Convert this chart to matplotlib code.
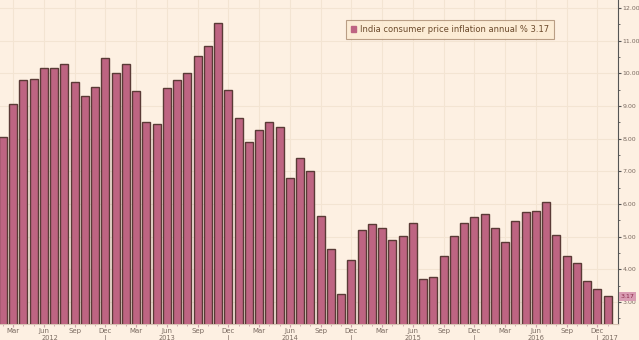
import matplotlib.pyplot as plt
import matplotlib.transforms as mtransforms
from matplotlib.patches import Patch

# monthly India CPI inflation, Feb 2012 .. Jan 2017 (annual %)
months = ['Feb', 'Mar', 'Apr', 'May', 'Jun', 'Jul', 'Aug', 'Sep', 'Oct', 'Nov', 'Dec', 'Jan'] * 5
cpi = [8.06, 9.06, 9.79, 9.83, 10.16, 10.15, 10.28, 9.73, 9.30, 9.57, 10.48, 10.01,
       10.28, 9.47, 8.50, 8.44, 9.54, 9.81, 10.00, 10.52, 10.84, 11.54, 9.49, 8.62,
       7.90, 8.27, 8.51, 8.36, 6.79, 7.41, 7.01, 5.64, 4.63, 3.25, 4.30, 5.19,
       5.39, 5.27, 4.89, 5.02, 5.42, 3.70, 3.76, 4.42, 5.01, 5.42, 5.61, 5.70,
       5.27, 4.85, 5.48, 5.77, 5.79, 6.07, 5.05, 4.40, 4.19, 3.64, 3.41, 3.17]
years = ['2012', '2013', '2014', '2015', '2016', '2017']
year_pos = [4.6, 16, 28, 40, 52, 59.2]
last_value = cpi[-1]

bg = '#FDF0E2'
bar_face = '#BE6482'
bar_edge = '#5A3A36'
text_col = '#7a6a60'

fig = plt.figure(figsize=(6.39, 3.40), dpi=100, facecolor=bg)
ax = fig.add_axes([0.0, 0.0485, 0.967, 0.9515], facecolor=bg)

x = list(range(len(cpi)))
ax.bar(x, cpi, width=0.78, color=bar_face, edgecolor=bar_edge, linewidth=1.0, zorder=3)

ax.set_xlim(-0.27, 60.0)
ax.set_ylim(2.343, 12.245)

# quarterly month labels
qpos = [i for i, m in enumerate(months) if m in ('Mar', 'Jun', 'Sep', 'Dec')]
ax.set_xticks(qpos)
ax.set_xticklabels([months[i] for i in qpos], fontsize=5, color=text_col)
ax.set_xticks(x, minor=True)
ax.tick_params(axis='x', which='major', length=2, pad=1.2, color='#c9a0a8')
ax.tick_params(axis='x', which='minor', length=1.5, color='#c9a0a8')

# years underneath, with separators under December
trans = mtransforms.blended_transform_factory(ax.transData, ax.transAxes)
for yr, p in zip(years, year_pos):
    ax.text(p, -0.034, yr, transform=trans, fontsize=4.8, color=text_col,
            ha='center', va='top')
for i, m in enumerate(months):
    if m == 'Dec':
        ax.plot([i, i], [-0.035, -0.08], transform=trans, color='#9a8a80',
                linewidth=0.6, clip_on=False)

# value axis on the right
ax.yaxis.tick_right()
ax.set_yticks(range(3, 13))
ax.set_yticklabels(['%.2f' % v for v in range(3, 13)], fontsize=4.5, color=text_col)
ax.set_yticks([v + 0.5 for v in range(2, 12)], minor=True)
ax.tick_params(axis='y', which='major', direction='out', length=2.2, pad=1.0, color='#555555')
ax.tick_params(axis='y', which='minor', direction='out', length=1.4, color='#555555')

for side in ('left', 'top'):
    ax.spines[side].set_visible(False)
ax.spines['right'].set_color('#555555')
ax.spines['right'].set_linewidth(0.8)
ax.spines['bottom'].set_color('#d8c4b4')

ax.grid(True, which='major', color='#F3E4D2', linewidth=0.8, zorder=0)

# last value tag on the axis
ax.text(1.004, last_value, '%.2f' % last_value,
        transform=mtransforms.blended_transform_factory(ax.transAxes, ax.transData),
        fontsize=4.5, color='#8a2848', ha='left', va='center',
        bbox=dict(boxstyle='square,pad=0.3', facecolor='#D99DB3', edgecolor='none'),
        clip_on=False, zorder=5)

handle = Patch(facecolor=bar_face, edgecolor=bar_face)
leg = ax.legend([handle], ['India consumer price inflation annual %% %.2f' % last_value],
                loc='upper right', bbox_to_anchor=(0.903, 0.952), fontsize=6,
                frameon=True, fancybox=False, handlelength=0.7, handleheight=0.7,
                handletextpad=0.4, borderpad=0.6, labelcolor='#6b4a2c')
leg.get_frame().set_facecolor('#FCEBD2')
leg.get_frame().set_edgecolor('#a88a70')
leg.get_frame().set_linewidth(0.8)

fig.savefig('out.png', dpi=100, facecolor=bg)
